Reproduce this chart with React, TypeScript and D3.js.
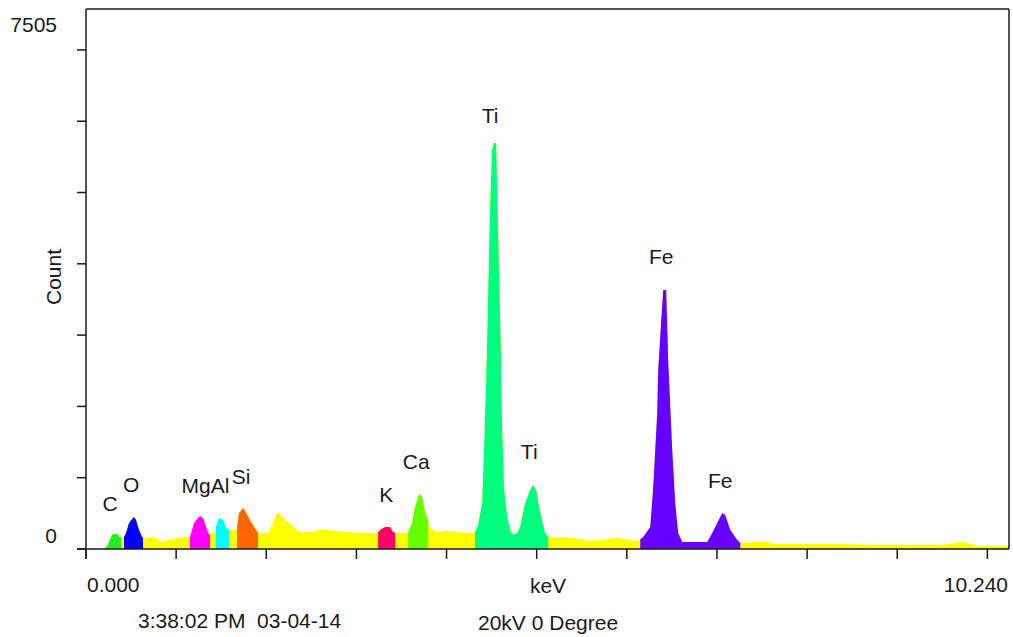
import React from "react";
import * as d3 from "d3";

// spectrum: energy (keV) and counts
const energyKeV = [
  0.2, 0.222, 0.244, 0.277, 0.3, 0.355, 0.366, 0.388, 0.422, 0.444, 0.477, 0.522, 0.533, 0.555, 0.588, 0.622,
  0.644, 0.699, 0.777, 0.832, 0.921, 1.032, 1.11, 1.154, 1.199, 1.243, 1.265, 1.299, 1.332, 1.365, 1.376, 1.432,
  1.443, 1.465, 1.476, 1.521, 1.554, 1.587, 1.665, 1.676, 1.698, 1.743, 1.776, 1.831, 1.887, 1.909, 2.02, 2.075,
  2.109, 2.131, 2.186, 2.253, 2.364, 2.442, 2.519, 2.63, 2.741, 2.897, 3.041, 3.23, 3.263, 3.319, 3.374, 3.407,
  3.43, 3.563, 3.574, 3.618, 3.651, 3.685, 3.707, 3.729, 3.762, 3.796, 3.818, 3.896, 4.007, 4.118, 4.229, 4.295,
  4.317, 4.351, 4.395, 4.406, 4.428, 4.451, 4.462, 4.484, 4.506, 4.528, 4.55, 4.562, 4.584, 4.606, 4.617, 4.639,
  4.673, 4.706, 4.739, 4.784, 4.817, 4.872, 4.928, 4.961, 4.994, 5.017, 5.061, 5.094, 5.128, 5.405, 5.594, 5.893,
  6.115, 6.182, 6.26, 6.293, 6.337, 6.348, 6.382, 6.404, 6.437, 6.459, 6.504, 6.537, 6.57, 6.615, 6.892, 6.948,
  7.003, 7.059, 7.092, 7.148, 7.225, 7.259, 7.336, 7.403, 7.558, 7.625, 8.002, 8.368, 8.735, 9.478, 9.734, 9.889,
  10.233,
];
const counts = [
  0, 28, 56, 168, 210, 210, 168, 168, 168, 224, 365, 435, 449, 407, 267, 168,
  154, 168, 154, 98, 126, 154, 168, 168, 365, 435, 463, 435, 309, 196, 224, 224,
  309, 407, 435, 407, 295, 267, 267, 309, 505, 575, 505, 379, 267, 224, 224, 365,
  477, 519, 435, 365, 239, 239, 239, 281, 253, 239, 224, 224, 267, 309, 309, 239,
  224, 224, 239, 365, 589, 730, 772, 730, 505, 407, 295, 239, 253, 239, 224, 224,
  239, 337, 645, 996, 1852, 2890, 3592, 4826, 5598, 5696, 5696, 4995, 3774, 2554, 1670, 828,
  449, 267, 196, 224, 309, 645, 828, 898, 828, 645, 379, 224, 168, 154, 112, 154,
  112, 168, 309, 870, 1908, 2511, 3213, 3634, 3634, 2652, 1389, 645, 224, 98, 98, 224,
  365, 505, 477, 267, 126, 84, 84, 98, 98, 70, 70, 70, 56, 56, 98, 42,
  42,
];

// element windows (keV)
const elements = ["C", "O", "Mg", "Al", "Si", "K", "Ca", "Ti", "Fe"];
const windowStart = [0.2, 0.422, 1.154, 1.443, 1.676, 3.241, 3.574, 4.317, 6.149];
const windowEnd = [0.388, 0.633, 1.376, 1.587, 1.909, 3.43, 3.796, 5.128, 7.259];

// peak labels: text, energy, count level of the label baseline
const labelText = ["C", "O", "MgAl", "Si", "K", "Ca", "Ti", "Ti", "Fe", "Fe"];
const labelKeV = [0.266, 0.5, 1.326, 1.72, 3.33, 3.663, 4.484, 4.917, 6.382, 7.037];
const labelCount = [533, 800, 786, 912, 659, 1122, 5977, 1263, 3999, 856];

const xTicks = [0, 1, 2, 3, 4, 5, 6, 7, 8, 9, 10];
const yTicks = [0, 1000, 2000, 3000, 4000, 5000, 6000, 7000];

const colors: Record<string, string> = {
  C: "#22ee22",
  O: "#0000ff",
  Mg: "#ff00ff",
  Al: "#00ffff",
  Si: "#ff6600",
  K: "#ff0066",
  Ca: "#66ff00",
  Ti: "#00ff7f",
  Fe: "#6600ff",
};

const width = 1013;
const height = 637;
const font = "'Liberation Sans', Arial, sans-serif";

export default function App() {
  const x = d3.scaleLinear().domain([0, 10.24]).range([86, 1009]);
  const y = d3.scaleLinear().domain([0, 7574]).range([549, 9]);

  const pts = energyKeV.map((e, i) => [e, counts[i]] as [number, number]);
  const area = d3
    .area<[number, number]>()
    .x(d => x(d[0]))
    .y0(y(0))
    .y1(d => y(d[1]))
    .curve(d3.curveLinear);
  const path = area(pts) || "";

  const ink = "#1a1a1a";

  return (
    <svg
      width={width}
      height={height}
      style={{ position: "absolute", left: 0, top: 0, background: "#fff" }}
      fontFamily={font}
      fontSize={21}
    >
      <defs>
        {elements.map((el, i) => (
          <clipPath id={`clip-${el}`} key={el}>
            <rect x={x(windowStart[i])} y={0} width={x(windowEnd[i]) - x(windowStart[i])} height={height} />
          </clipPath>
        ))}
      </defs>

      {/* spectrum */}
      <path d={path} fill="#ffff00" />
      {elements.map(el => (
        <path key={el} d={path} fill={colors[el]} clipPath={`url(#clip-${el})`} />
      ))}

      {/* frame */}
      <line x1={x(0)} x2={x(10.24)} y1={9} y2={9} stroke={ink} strokeWidth={1.5} />
      <line x1={x(10.24)} x2={x(10.24)} y1={9} y2={y(0)} stroke={ink} strokeWidth={1.5} />
      <line x1={x(0)} x2={x(0)} y1={9} y2={559} stroke={ink} strokeWidth={1.5} />
      <line x1={77} x2={x(10.24)} y1={y(0)} y2={y(0)} stroke={ink} strokeWidth={1.5} />

      {/* ticks */}
      {yTicks.map(t => (
        <line key={t} x1={77} x2={x(0)} y1={y(t)} y2={y(t)} stroke={ink} strokeWidth={1.5} />
      ))}
      {xTicks.map(t => (
        <line key={t} x1={x(t)} x2={x(t)} y1={y(0)} y2={y(0) + 10} stroke={ink} strokeWidth={1.5} />
      ))}

      {/* axis text */}
      <g fill={ink}>
        <text x={57} y={32} textAnchor="end">7505</text>
        <text x={57} y={543} textAnchor="end">0</text>
        <text transform="translate(61,277) rotate(-90)" textAnchor="middle">Count</text>
        <text x={87} y={592}>0.000</text>
        <text x={548} y={593} textAnchor="middle">keV</text>
        <text x={1008} y={592} textAnchor="end">10.240</text>
        <text x={138} y={628} style={{ whiteSpace: "pre" }}>3:38:02 PM  03-04-14</text>
        <text x={478} y={630}>20kV 0 Degree</text>
      </g>

      {/* peak labels */}
      <g fill={ink} textAnchor="middle">
        {labelText.map((t, i) => (
          <text key={i} x={x(labelKeV[i])} y={y(labelCount[i])}>
            {t}
          </text>
        ))}
      </g>
    </svg>
  );
}
